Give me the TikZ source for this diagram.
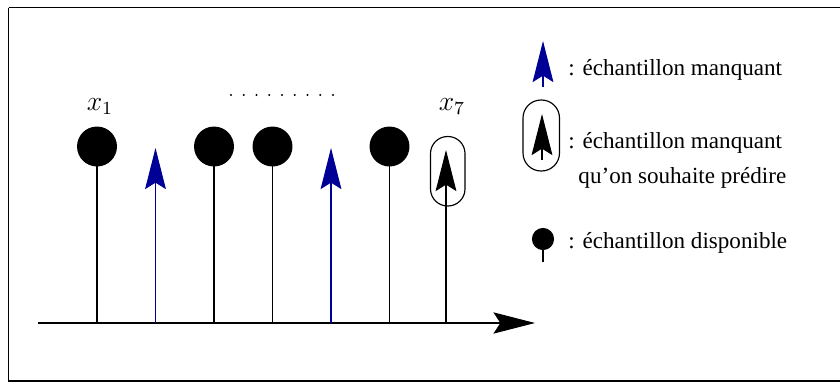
\documentclass[tikz,border=0pt]{standalone}
\usepackage{fontspec}
\setmainfont{Liberation Serif}
\usetikzlibrary{arrows.meta}
\definecolor{navyarrow}{RGB}{0,0,150}
\tikzset{
  stem/.style={line width=0.45pt, draw=black},
  bigtip/.style={-{Stealth[length=17.8pt,width=9pt,inset=2.8pt]}},
  missing/.style={stem, bigtip, draw=navyarrow, fill=navyarrow},
  target/.style={stem, bigtip, draw=black, fill=black},
  dotnode/.style={circle, fill=black, inner sep=0pt},
  capsule/.style={draw=black, line width=0.5pt},
  legtext/.style={anchor=base west, inner sep=0pt, font=\fontsize{10}{12}\selectfont},
  mathlbl/.style={anchor=base, inner sep=0pt, font=\fontsize{11.5}{14}\selectfont},
}
\begin{document}
\begin{tikzpicture}[x=0.433pt,y=-0.433pt]
\useasboundingbox (0,0) rectangle (840,383);
% frame
\draw[line width=0.6pt] (8.5,7.5) -- (8.5,381) -- (850,381);
\draw[line width=0.6pt] (8.5,7.5) -- (850,7.5);
% axis
\coordinate (a0) at (38,323);
\coordinate (aend) at (535,323);
\draw[stem, -{Stealth[length=18pt,width=9.2pt,inset=3pt]}] (a0) -- (aend);
% base coordinates on axis
\foreach \i/\x in {1/97,2/155.5,3/214,4/272.5,5/331,6/389.5,7/446}{
  \coordinate (b\i) at (\x,323);
}
% available samples
\foreach \i in {1,3,4,6}{
  \path (b\i) ++(0,-176.5) node[dotnode, minimum size=17.3pt] (c\i) {};
  \draw[stem] (b\i) -- (c\i.center);
}
% missing samples
\coordinate (t2) at (155.5,148);
\coordinate (t5) at (331,148);
\draw[missing] (b2) -- (t2);
\draw[missing] (b5) -- (t5);
% sample to predict
\coordinate (t7) at (446,150);
\draw[target] (b7) -- (t7);
\draw[capsule, rounded corners=7.4pt] (430.5,136.5) rectangle (465,206);
% labels
\node[mathlbl] (x1) at (100,110) {$x_1$};
\node[mathlbl] (x7) at (452,110) {$x_7$};
\foreach \k in {0,...,8}{
  \fill ({231+\k*12.75},95) circle (0.45pt);
}
% legend
\coordinate (l1b) at (543,87);
\coordinate (l1t) at (543,41);
\draw[missing] (l1b) -- (l1t);
\node[legtext] (txt1) at (568,75) {: échantillon manquant};

\coordinate (l2b) at (542,160);
\coordinate (l2t) at (542,114);
\draw[target] (l2b) -- (l2t);
\draw[capsule, rounded corners=7.8pt] (523,100) rectangle (559.5,171);
\node[legtext] (txt2) at (568,148) {: échantillon manquant};
\node[legtext] (txt3) at (578,183) {qu’on souhaite prédire};

\coordinate (l3b) at (543,262);
\node[dotnode, minimum size=9.6pt] (l3c) at (543,239) {};
\draw[stem] (l3b) -- (l3c.center);
\node[legtext] (txt4) at (568,248) {: échantillon disponible};
\end{tikzpicture}
\end{document}
